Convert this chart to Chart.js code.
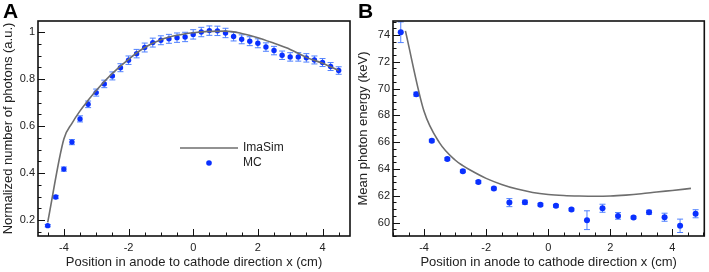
<!DOCTYPE html>
<html>
<head>
<meta charset="utf-8">
<script src="https://cdn.jsdelivr.net/npm/chart.js@4.4.0/dist/chart.umd.min.js"></script>
<style>
  body { margin: 0; background: #fff; }
  #wrap { position: relative; width: 709px; height: 272px; overflow: hidden; }
  canvas { position: absolute; top: 0; }
  #chartA { left: 0; }
  #chartB { left: 355px; }
  .tag { position: absolute; top: -1px; font: bold 21px "Liberation Sans", Arial, sans-serif; color: #000; }
</style>
</head>
<body>
<div id="wrap">
  <canvas id="chartA" width="355" height="272"></canvas>
  <canvas id="chartB" width="354" height="272"></canvas>
  <div class="tag" style="left:3px">A</div>
  <div class="tag" style="left:358px">B</div>
</div>
<script>
// Panel A: normalized number of photons
const xA = [-4.5, -4.25, -4.0, -3.75, -3.5, -3.25, -3.0, -2.75, -2.5, -2.25, -2.0, -1.75, -1.5, -1.25, -1.0, -0.75, -0.5, -0.25,
            0, 0.25, 0.5, 0.75, 1.0, 1.25, 1.5, 1.75, 2.0, 2.25, 2.5, 2.75, 3.0, 3.25, 3.5, 3.75, 4.0, 4.25, 4.5];
const mcA = [0.176, 0.298, 0.417, 0.532, 0.631, 0.693, 0.743, 0.780, 0.814, 0.849, 0.881, 0.909, 0.935, 0.956, 0.966, 0.972, 0.977, 0.980,
             0.991, 1.001, 1.007, 1.006, 0.997, 0.982, 0.970, 0.962, 0.953, 0.937, 0.922, 0.902, 0.895, 0.895, 0.891, 0.882, 0.871, 0.854, 0.837];
const errA = [0.005, 0.007, 0.009, 0.011, 0.013, 0.014, 0.015, 0.016, 0.017, 0.017, 0.018, 0.018, 0.019, 0.019, 0.019, 0.019, 0.020, 0.020,
              0.020, 0.020, 0.020, 0.020, 0.020, 0.019, 0.019, 0.019, 0.019, 0.018, 0.018, 0.018, 0.018, 0.018, 0.018, 0.017, 0.017, 0.017, 0.016];
const lineXA = [-4.5, -4.0, -3.75, -3.5, -3.25, -3.0, -2.5, -2.0, -1.5, -1.0, -0.5, 0, 0.5, 1.0, 1.5, 2.0, 2.5, 3.0, 3.5, 4.0, 4.5];
const imaA = [0.19, 0.545, 0.612, 0.665, 0.71, 0.752, 0.825, 0.885, 0.935, 0.968, 0.987, 0.998, 1.004, 1.005, 0.995, 0.977, 0.953, 0.927, 0.893, 0.868, 0.838];
const ticksYA = [0.2, 0.4, 0.6, 0.8, 1];

// Panel B: mean photon energy
const xB = [-4.75, -4.25, -3.75, -3.25, -2.75, -2.25, -1.75, -1.25, -0.75, -0.25, 0.25, 0.75, 1.25, 1.75, 2.25, 2.75, 3.25, 3.75, 4.25, 4.75];
const mcB = [74.2, 69.58, 66.11, 64.74, 63.83, 63.03, 62.54, 61.49, 61.52, 61.34, 61.25, 60.97, 60.18, 61.07, 60.50, 60.38, 60.77, 60.40, 59.76, 60.66];
const errB = [0.77, 0.15, 0.1, 0.1, 0.1, 0.1, 0.1, 0.3, 0.15, 0.1, 0.1, 0.1, 0.7, 0.3, 0.25, 0.1, 0.15, 0.3, 0.5, 0.3];
const lineXB = [-4.6, -4.0, -3.5, -3.0, -2.75, -2.5, -2.0, -1.5, -1.0, -0.5, 0, 0.5, 1.0, 1.5, 2.0, 2.5, 3.0, 3.5, 4.0, 4.6];
const imaB = [74.3, 68.3, 65.95, 64.67, 64.25, 63.9, 63.3, 62.85, 62.5, 62.25, 62.1, 62.02, 61.98, 61.96, 61.98, 62.05, 62.15, 62.28, 62.4, 62.55];
const ticksYB = [60, 62, 64, 66, 68, 70, 72, 74];

const seriesNames = ['ImaSim', 'MC'];
const xTitle = 'Position in anode to cathode direction x (cm)';

Chart.defaults.font.family = '"Liberation Sans", Arial, Helvetica, sans-serif';
Chart.defaults.color = '#222';

const LINE_COLOR = '#6e6e6e';
const DOT_COLOR = '#0a30ff';
const ERR_COLOR = '#4f80ff';

// error bars drawn behind the MC dots
const errorBars = {
  id: 'errorBars',
  beforeDatasetsDraw(chart, args, opts) {
    const { ctx, scales: { x, y } } = chart;
    ctx.save();
    ctx.strokeStyle = ERR_COLOR;
    ctx.lineWidth = 1;
    opts.xs.forEach((xv, i) => {
      const px = x.getPixelForValue(xv);
      const top = y.getPixelForValue(opts.ys[i] + opts.errs[i]);
      const bot = y.getPixelForValue(opts.ys[i] - opts.errs[i]);
      ctx.beginPath();
      ctx.moveTo(px, top); ctx.lineTo(px, bot);
      ctx.moveTo(px - 3, top); ctx.lineTo(px + 3, top);
      ctx.moveTo(px - 3, bot); ctx.lineTo(px + 3, bot);
      ctx.stroke();
    });
    ctx.restore();
  }
};

// ROOT-style frame with inward ticks, plus optional in-plot legend
const frame = {
  id: 'frame',
  afterDatasetsDraw(chart, args, opts) {
    const { ctx, chartArea: a, scales: { x, y } } = chart;
    ctx.save();
    ctx.strokeStyle = '#111';
    ctx.lineWidth = 1;
    const isMajor = (v, step) => Math.abs(v / step - Math.round(v / step)) < 1e-6;
    ctx.beginPath();
    for (let v = Math.ceil(x.min / opts.xMinor) * opts.xMinor; v <= x.max; v += opts.xMinor) {
      const px = Math.round(x.getPixelForValue(v)) + 0.5;
      const len = isMajor(v, opts.xMajor) ? 7 : 3.5;
      ctx.moveTo(px, a.bottom); ctx.lineTo(px, a.bottom - len);
    }
    for (let v = Math.ceil(y.min / opts.yMinor) * opts.yMinor; v <= y.max; v += opts.yMinor) {
      const py = Math.round(y.getPixelForValue(v)) + 0.5;
      const len = isMajor(v, opts.yMajor) ? 7 : 3.5;
      ctx.moveTo(a.left, py); ctx.lineTo(a.left + len, py);
    }
    ctx.stroke();
    ctx.lineWidth = 1.6;
    ctx.strokeRect(a.left, a.top, a.width, a.height);

    if (opts.legend) {
      const L = opts.legend;
      ctx.strokeStyle = LINE_COLOR;
      ctx.lineWidth = 1.6;
      ctx.beginPath();
      ctx.moveTo(L.x, L.y); ctx.lineTo(L.x + 58, L.y);
      ctx.stroke();
      ctx.fillStyle = DOT_COLOR;
      ctx.beginPath();
      ctx.arc(L.x + 29, L.y + 15, 2.8, 0, Math.PI * 2);
      ctx.fill();
      ctx.fillStyle = '#222';
      ctx.font = '12px "Liberation Sans", Arial, sans-serif';
      ctx.textBaseline = 'middle';
      ctx.fillText(seriesNames[0], L.x + 63, L.y);
      ctx.fillText(seriesNames[1], L.x + 63, L.y + 15);
    }
    ctx.restore();
  }
};

function makeChart(id, cfg) {
  return new Chart(document.getElementById(id), {
    type: 'scatter',
    data: {
      datasets: [
        {
          label: seriesNames[0],
          type: 'line',
          data: cfg.lineX.map((v, i) => ({ x: v, y: cfg.line[i] })),
          borderColor: LINE_COLOR,
          borderWidth: 1.6,
          pointRadius: 0,
          fill: false,
          cubicInterpolationMode: 'monotone'
        },
        {
          label: seriesNames[1],
          data: cfg.x.map((v, i) => ({ x: v, y: cfg.mc[i] })),
          backgroundColor: DOT_COLOR,
          borderColor: DOT_COLOR,
          borderWidth: 0,
          pointRadius: cfg.dot
        }
      ]
    },
    options: {
      responsive: false,
      animation: false,
      devicePixelRatio: 1,
      layout: { padding: { top: 21, right: cfg.padRight, left: 0, bottom: 0 } },
      plugins: {
        legend: { display: false },
        tooltip: { enabled: false },
        errorBars: { xs: cfg.x, ys: cfg.mc, errs: cfg.err },
        frame: { xMinor: 0.5, xMajor: 2, yMinor: cfg.yMinor, yMajor: cfg.yMajor, legend: cfg.legend }
      },
      scales: {
        x: {
          type: 'linear',
          min: cfg.xmin, max: cfg.xmax,
          grid: { display: false, drawTicks: false },
          border: { display: false },
          ticks: { stepSize: 2, includeBounds: false, padding: 5, font: { size: 11 }, color: '#222' },
          title: { display: true, text: xTitle, font: { size: 13 }, color: '#222', padding: { top: 0, bottom: 2 } },
          afterFit: s => { s.height = 36; }
        },
        y: {
          min: cfg.ymin, max: cfg.ymax,
          grid: { display: false, drawTicks: false },
          border: { display: false },
          afterBuildTicks: s => { s.ticks = cfg.yTicks.map(v => ({ value: v })); },
          ticks: { padding: 3, font: { size: 11 }, color: '#222', callback: v => String(v) },
          title: { display: true, text: cfg.yTitle, font: { size: 13 }, color: '#222', padding: { top: 1, bottom: 0 } },
          afterFit: s => { s.width = 38; }
        }
      }
    },
    plugins: [errorBars, frame]
  });
}

makeChart('chartA', {
  x: xA, mc: mcA, err: errA, lineX: lineXA, line: imaA, dot: 2.7,
  xmin: -4.8, xmax: 4.85, ymin: 0.132, ymax: 1.048,
  yTicks: ticksYA, yMinor: 0.05, yMajor: 0.2,
  yTitle: 'Normalized number of photons (a.u.)', padRight: 5,
  legend: { x: 180, y: 148 }
});

makeChart('chartB', {
  x: xB, mc: mcB, err: errB, lineX: lineXB, line: imaB, dot: 3,
  xmin: -5, xmax: 5.03, ymin: 59, ymax: 75.04,
  yTicks: ticksYB, yMinor: 0.5, yMajor: 2,
  yTitle: 'Mean photon energy (keV)', padRight: 4.7,
  legend: null
});
</script>
</body>
</html>
